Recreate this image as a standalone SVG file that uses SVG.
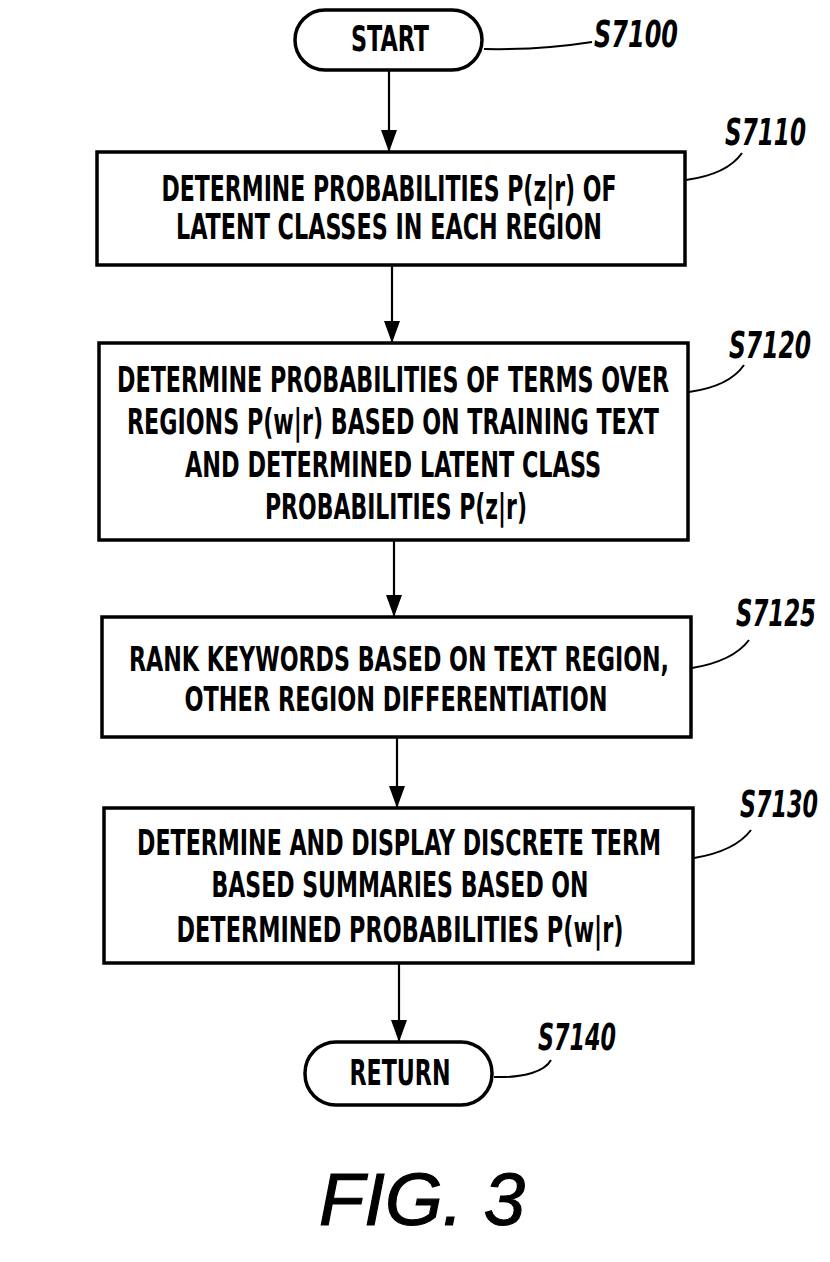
<svg xmlns="http://www.w3.org/2000/svg" width="830" height="1262" viewBox="0 0 830 1262">
<style>
.box{fill:#fff;stroke:#000;stroke-width:3.5}
.t{font-family:"DejaVu Sans Condensed","DejaVu Sans",sans-serif;font-weight:bold;font-size:25px;fill:#000;text-anchor:middle}
.lab{font-family:"DejaVu Sans Condensed","DejaVu Sans",sans-serif;font-weight:bold;font-style:italic;font-size:26px;fill:#000}
.ln{fill:none;stroke:#000;stroke-width:2.2}
.ld{fill:none;stroke:#000;stroke-width:2}
.fig{font-family:"Liberation Sans",Arial,sans-serif;font-style:italic;font-size:74px;fill:#000;stroke:#000;stroke-width:1.2}
</style>
<defs>
<marker id="ah" viewBox="0 0 22 16" refX="22" refY="8" markerWidth="22" markerHeight="16" markerUnits="userSpaceOnUse" orient="auto">
<path d="M0,0 L22,8 L0,16 Z" fill="#000"/>
</marker>
</defs>
<rect width="830" height="1262" fill="#fff"/>
<g id="connectors">
<line class="ln" x1="389" y1="70" x2="389" y2="152" marker-end="url(#ah)"/>
<line class="ln" x1="392" y1="265" x2="392" y2="343" marker-end="url(#ah)"/>
<line class="ln" x1="394" y1="540" x2="394" y2="617" marker-end="url(#ah)"/>
<line class="ln" x1="397" y1="737" x2="397" y2="808" marker-end="url(#ah)"/>
<line class="ln" x1="399" y1="963" x2="399" y2="1042" marker-end="url(#ah)"/>
<path class="ld" d="M484,49 C530,50 560,47 592,42"/>
<path class="ld" d="M686,180 C715,176 733,166 742,153"/>
<path class="ld" d="M689,392 C718,388 735,378 744,365"/>
<path class="ld" d="M692,668 C722,663 740,652 749,640"/>
<path class="ld" d="M694,858 C724,853 742,842 751,830"/>
<path class="ld" d="M494,1077 C525,1078 545,1071 551,1060"/>
</g>
<g id="start">
<rect class="box" x="295" y="10" width="187" height="60" rx="30" ry="30"/>
<text class="t" transform="translate(390,51) scale(1,1.4)" textLength="78" lengthAdjust="spacingAndGlyphs">START</text>
<text class="lab" transform="translate(594,47) scale(1,1.45)" textLength="84" lengthAdjust="spacingAndGlyphs">S7100</text>
</g>
<g id="s7110">
<rect class="box" x="97" y="152" width="588" height="113"/>
<text class="t" transform="translate(389,201) scale(1,1.45)" textLength="455" lengthAdjust="spacingAndGlyphs">DETERMINE PROBABILITIES P(z|r) OF</text>
<text class="t" transform="translate(389,239) scale(1,1.45)" textLength="426" lengthAdjust="spacingAndGlyphs">LATENT CLASSES IN EACH REGION</text>
<text class="lab" transform="translate(725,145) scale(1,1.45)" textLength="81" lengthAdjust="spacingAndGlyphs">S7110</text>
</g>
<g id="s7120">
<rect class="box" x="99" y="343" width="589" height="197"/>
<text class="t" transform="translate(393,392) scale(1,1.45)" textLength="552" lengthAdjust="spacingAndGlyphs">DETERMINE PROBABILITIES OF TERMS OVER</text>
<text class="t" transform="translate(393,434) scale(1,1.45)" textLength="532" lengthAdjust="spacingAndGlyphs">REGIONS P(w|r) BASED ON TRAINING TEXT</text>
<text class="t" transform="translate(393,477) scale(1,1.45)" textLength="416" lengthAdjust="spacingAndGlyphs">AND DETERMINED LATENT CLASS</text>
<text class="t" transform="translate(396,519) scale(1,1.45)" textLength="262" lengthAdjust="spacingAndGlyphs">PROBABILITIES P(z|r)</text>
<text class="lab" transform="translate(729,358) scale(1,1.45)" textLength="82" lengthAdjust="spacingAndGlyphs">S7120</text>
</g>
<g id="s7125">
<rect class="box" x="102" y="617" width="589" height="120"/>
<text class="t" transform="translate(399,671) scale(1,1.38)" textLength="540" lengthAdjust="spacingAndGlyphs">RANK KEYWORDS BASED ON TEXT REGION,</text>
<text class="t" transform="translate(396,711) scale(1,1.38)" textLength="423" lengthAdjust="spacingAndGlyphs">OTHER REGION DIFFERENTIATION</text>
<text class="lab" transform="translate(736,626) scale(1,1.45)" textLength="80" lengthAdjust="spacingAndGlyphs">S7125</text>
</g>
<g id="s7130">
<rect class="box" x="104" y="808" width="589" height="155"/>
<text class="t" transform="translate(399,855) scale(1,1.45)" textLength="524" lengthAdjust="spacingAndGlyphs">DETERMINE AND DISPLAY DISCRETE TERM</text>
<text class="t" transform="translate(400,897) scale(1,1.45)" textLength="377" lengthAdjust="spacingAndGlyphs">BASED SUMMARIES BASED ON</text>
<text class="t" transform="translate(400,942) scale(1,1.45)" textLength="447" lengthAdjust="spacingAndGlyphs">DETERMINED PROBABILITIES P(w|r)</text>
<text class="lab" transform="translate(740,817) scale(1,1.45)" textLength="78" lengthAdjust="spacingAndGlyphs">S7130</text>
</g>
<g id="return">
<rect class="box" x="305" y="1042" width="187" height="63" rx="31" ry="31"/>
<text class="t" transform="translate(400,1085) scale(1,1.45)" textLength="101" lengthAdjust="spacingAndGlyphs">RETURN</text>
<text class="lab" transform="translate(538,1050) scale(1,1.45)" textLength="78" lengthAdjust="spacingAndGlyphs">S7140</text>
</g>
<text class="fig" x="319" y="1225" textLength="206" lengthAdjust="spacingAndGlyphs">FIG. 3</text>
</svg>
